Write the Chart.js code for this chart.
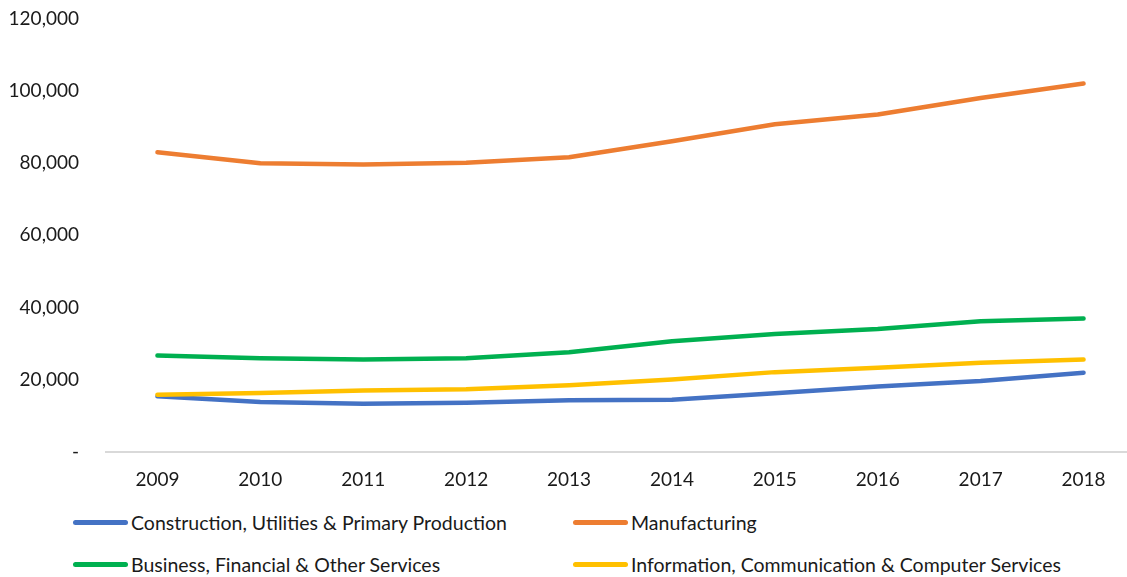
<!DOCTYPE html>
<html lang="en">
<head>
    <meta charset="UTF-8">
    <title>Employment by sector</title>
    <style>
        html, body { margin: 0; padding: 0; background: #fff; overflow: hidden; }
        #chart-container { position: absolute; left: 0; top: -12px; width: 1135px; height: 511px; }
        #legend {
            position: absolute; left: 0; top: 500px; width: 1127px;
            font-family: Lato, sans-serif; font-size: 19.5px; color: #1a1a1a;
        }
        .item { position: absolute; display: flex; align-items: center; height: 24px; }
        .swatch { width: 55px; height: 5px; border-radius: 3px; margin-right: 3px; }
    </style>
</head>
<body>
    <div id="chart-container">
        <canvas id="myChart"></canvas>
    </div>
    <div id="legend"></div>

    <script src="https://cdn.jsdelivr.net/npm/chart.js@4"></script>
    <script>
        const years = ['2009', '2010', '2011', '2012', '2013', '2014', '2015', '2016', '2017', '2018'];

        const construction  = [15450, 13900, 13400, 13700, 14350, 14500, 16300, 18200, 19700, 22000];
        const manufacturing = [83000, 79900, 79600, 80100, 81600, 86000, 90700, 93400, 98000, 102000];
        const business      = [26760, 26000, 25650, 26000, 27670, 30700, 32700, 34100, 36200, 37000];
        const information   = [15900, 16400, 17100, 17400, 18500, 20100, 22150, 23350, 24750, 25650];

        const seriesNames = [
            'Construction, Utilities & Primary Production',
            'Manufacturing',
            'Business, Financial & Other Services',
            'Information, Communication & Computer Services'
        ];
        const seriesColors = ['#4472C4', '#ED7D31', '#00B050', '#FFC000'];
        const seriesValues = [construction, manufacturing, business, information];

        // blue is drawn last in the picture (sits on top of yellow at 2009)
        const drawOrder = [3, 0, 1, 2];

        const datasets = seriesValues.map((vals, i) => ({
            label: seriesNames[i],
            data: vals,
            borderColor: seriesColors[i],
            backgroundColor: seriesColors[i],
            borderWidth: 4.5,
            borderCapStyle: 'round',
            borderJoinStyle: 'round',
            pointRadius: 0,
            tension: 0,
            fill: false,
            order: drawOrder[i]
        }));

        const ctx = document.getElementById('myChart').getContext('2d');
        const tickFont = { family: 'Lato, sans-serif', size: 19 };

        const myChart = new Chart(ctx, {
            type: 'line',
            data: { labels: years, datasets },
            options: {
                responsive: true,
                maintainAspectRatio: false,
                animation: false,
                events: [],
                layout: { padding: 0 },
                plugins: {
                    legend: { display: false },
                    tooltip: { enabled: false }
                },
                scales: {
                    x: {
                        offset: true,
                        grid: { display: false },
                        border: { display: true, color: '#D9D9D9', width: 2 },
                        ticks: { font: tickFont, color: '#1a1a1a', padding: 8, maxRotation: 0 }
                    },
                    y: {
                        min: 0,
                        max: 120000,
                        afterFit: (scale) => { scale.width = 106; },
                        grid: { display: false },
                        border: { display: false },
                        ticks: {
                            stepSize: 20000,
                            font: tickFont,
                            color: '#1a1a1a',
                            padding: 19,
                            callback: (v) => v === 0 ? '-' : v.toLocaleString('en-US')
                        }
                    }
                }
            }
        });

        // legend in two columns, like the original
        const legendEl = document.getElementById('legend');
        const legendPos = [[73, 10], [573, 10], [73, 52], [573, 52]];
        myChart.data.datasets.forEach((ds, i) => {
            const item = document.createElement('div');
            item.className = 'item';
            item.style.left = legendPos[i][0] + 'px';
            item.style.top = legendPos[i][1] + 'px';
            item.innerHTML = '<span class="swatch" style="background:' + ds.borderColor + '"></span><span></span>';
            item.lastChild.textContent = ds.label;
            legendEl.appendChild(item);
        });
    </script>
</body>
</html>
